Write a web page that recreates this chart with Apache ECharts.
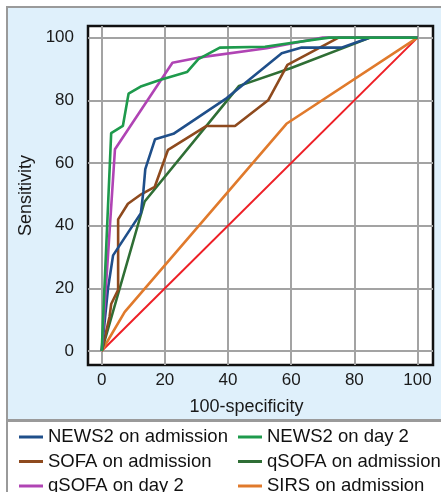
<!DOCTYPE html>
<html>
<head>
<meta charset="utf-8">
<script src="https://cdn.jsdelivr.net/npm/echarts@6/dist/echarts.min.js"></script>
<style>
html,body{margin:0;padding:0;background:#ffffff;}
#chart{width:441px;height:492px;}
</style>
</head>
<body>
<div id="chart"></div>
<script>
// ROC curves: [100-specificity, sensitivity]
const news2Admission = [[0,0],[2,20],[3.6,30.5],[12.4,44],[13.2,51],[13.8,58],[16.9,67.6],[22.7,69.3],[39.6,80.7],[57,95],[63.3,96.8],[75.9,96.8],[85,100],[100,100]];
const news2Day2 = [[0,0],[3,69.5],[6.7,71.8],[8.5,82.1],[12.6,84.5],[18.4,86.5],[27,89],[30.6,93.1],[37.4,96.8],[51.7,97.1],[69,99.6],[72,100],[100,100]];
const sofaAdmission = [[0,0],[2.5,11],[3,15],[5.2,19.5],[5.2,42],[8.3,47],[12.5,50],[16.8,52.4],[21,64.2],[33.2,71.8],[42.2,71.8],[52.7,80],[58.8,91.3],[75,100],[100,100]];
const qsofaAdmission = [[0,0],[13.6,47.7],[43.5,84.6],[60,90.3],[85,100],[100,100]];
const qsofaDay2 = [[0,0],[4.2,64.4],[22.4,92],[30.5,93.6],[52.2,96.6],[70,100],[100,100]];
const sirsAdmission = [[0,0],[7.3,12.5],[58.5,72.5],[100,100]];
const reference = [[0,0],[100,100]];

const tickValues = [0,20,40,60,80,100];
const legendLeft = ['NEWS2 on admission','SOFA on admission','qSOFA on day 2'];
const legendRight = ['NEWS2 on day 2','qSOFA on admission','SIRS on admission'];

const colors = {
  'NEWS2 on admission':'#1f4f8a',
  'NEWS2 on day 2':'#1e9a4c',
  'SOFA on admission':'#8e4a1e',
  'qSOFA on admission':'#2f6e35',
  'qSOFA on day 2':'#b044b4',
  'SIRS on admission':'#e07a2c',
  'Reference':'#ee1f26'
};

const seriesData = [
  ['Reference', reference],
  ['SIRS on admission', sirsAdmission],
  ['qSOFA on admission', qsofaAdmission],
  ['SOFA on admission', sofaAdmission],
  ['NEWS2 on admission', news2Admission],
  ['qSOFA on day 2', qsofaDay2],
  ['NEWS2 on day 2', news2Day2]
];

const font = 'Liberation Sans, Arial, sans-serif';
const chart = echarts.init(document.getElementById('chart'), null, {renderer:'canvas'});

const legendCommon = {
  orient:'vertical',
  icon:'rect',
  itemWidth:24,
  itemHeight:3,
  itemGap:5.5,
  padding:0,
  height:120,
  textStyle:{fontFamily:font,fontSize:18.5,color:'#111111',lineHeight:18}
};

chart.setOption({
  animation:false,
  backgroundColor:'#ffffff',
  graphic:[
    {type:'rect',z:-10,shape:{x:7,y:7,width:440,height:413},style:{fill:'#dff0fb',stroke:'#9a9a9a',lineWidth:2}},
    {type:'rect',z:-10,shape:{x:7,y:421,width:440,height:80},style:{fill:'#ffffff',stroke:'#9a9a9a',lineWidth:2}}
  ],
  grid:{left:88,top:26,width:345,height:339,show:true,backgroundColor:'#ffffff',borderColor:'#111111',borderWidth:2.5},
  legend:[
    Object.assign({left:19,top:427.5,data:legendLeft}, legendCommon),
    Object.assign({left:238,top:427.5,data:legendRight}, legendCommon)
  ],
  xAxis:{
    type:'value',min:-4.34,max:104.9,
    name:'100-specificity',nameLocation:'middle',nameGap:33,
    nameTextStyle:{fontFamily:font,fontSize:18,color:'#1a1a1a',padding:[0,28,0,0]},
    axisLine:{show:false},
    axisTick:{show:false,customValues:tickValues},
    axisLabel:{customValues:tickValues,fontFamily:font,fontSize:17,color:'#1a1a1a',margin:7},
    splitLine:{show:true,lineStyle:{color:'#a3a3a3',width:2}}
  },
  yAxis:{
    type:'value',min:-4.47,max:103.7,
    name:'Sensitivity',nameLocation:'middle',nameGap:52,
    nameTextStyle:{fontFamily:font,fontSize:18,color:'#1a1a1a'},
    axisLine:{show:false},
    axisTick:{show:false,customValues:tickValues},
    axisLabel:{customValues:tickValues,fontFamily:font,fontSize:17,color:'#1a1a1a',margin:14},
    splitLine:{show:true,lineStyle:{color:'#a3a3a3',width:2}}
  },
  series:seriesData.map(([name,data])=>({
    name:name,type:'line',data:data,showSymbol:false,symbol:'none',
    lineStyle:{color:colors[name],width:name==='Reference'?2:2.6},
    itemStyle:{color:colors[name]},
    z: name==='Reference'?2:3
  }))
});
</script>
</body>
</html>
